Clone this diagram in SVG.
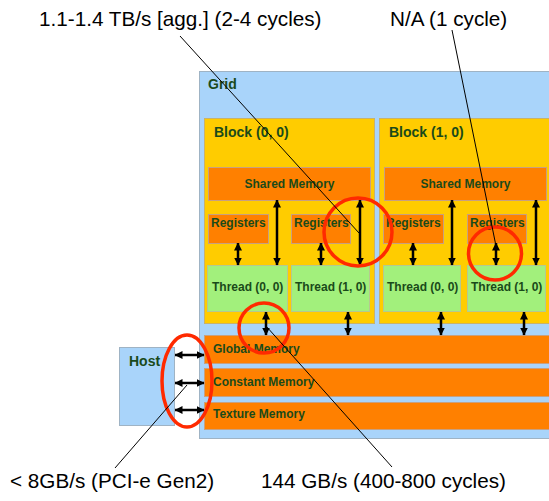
<svg xmlns="http://www.w3.org/2000/svg" width="549" height="501" viewBox="0 0 549 501">
<defs>
<marker id="ah" viewBox="0 0 8 8" refX="7.5" refY="4" markerWidth="8" markerHeight="8" markerUnits="userSpaceOnUse" orient="auto-start-reverse">
<path d="M0,0 L8,4 L0,8 z" fill="#000"/>
</marker>
</defs>
<style>
.grid{fill:#a9d4fa;stroke:#9fb3c4;stroke-width:1}
.block{fill:#ffcc00;stroke:#c9b26a;stroke-width:1}
.mem{fill:#ff8000;stroke:#c8a080;stroke-width:1}
.thr{fill:#a2f07c;stroke:#b5c890;stroke-width:1}
.host{fill:#a9d4fa;stroke:#9fb3c4;stroke-width:1}
.lbl{font-family:"Liberation Sans",Arial,sans-serif;font-weight:bold;fill:#1a4a1a}
.l14{font-size:14px}
.l12{font-size:12px}
.big{font-family:"Liberation Sans",Arial,sans-serif;font-size:20.7px;fill:#000}
.arr{stroke:#000;stroke-width:2.5;fill:none;marker-start:url(#ah);marker-end:url(#ah)}
.ptr{stroke:#000;stroke-width:1;fill:none}
.ring{stroke:#ff2a00;stroke-width:3.5;fill:none}
</style>
<rect width="549" height="501" fill="#fff"/>

<g id="grid">
<rect class="grid" x="199.5" y="71.5" width="360" height="367"/>
<text class="lbl l14" x="208" y="89">Grid</text>
</g>

<g id="block00">
<rect class="block" x="204.5" y="118.5" width="170" height="205"/>
<text class="lbl l14" x="214" y="137">Block (0, 0)</text>
</g>
<g id="block10">
<rect class="block" x="379.5" y="118.5" width="180" height="205"/>
<text class="lbl l14" x="389" y="137">Block (1, 0)</text>
</g>

<g id="shared0">
<rect class="mem" x="208.5" y="167.5" width="162" height="33"/>
<text class="lbl l12" x="289.5" y="188" text-anchor="middle">Shared Memory</text>
</g>
<g id="shared1">
<rect class="mem" x="384.5" y="167.5" width="162" height="33"/>
<text class="lbl l12" x="465.5" y="188" text-anchor="middle">Shared Memory</text>
</g>

<g id="reg00">
<rect class="mem" x="208.5" y="214.5" width="60" height="29"/>
<text class="lbl l12" x="211" y="227">Registers</text>
</g>
<g id="reg01">
<rect class="mem" x="291.5" y="214.5" width="59" height="29"/>
<text class="lbl l12" x="294" y="227">Registers</text>
</g>
<g id="reg10">
<rect class="mem" x="383.5" y="214.5" width="60" height="29"/>
<text class="lbl l12" x="386" y="227">Registers</text>
</g>
<g id="reg11">
<rect class="mem" x="467.5" y="214.5" width="59" height="29"/>
<text class="lbl l12" x="470" y="227">Registers</text>
</g>

<g id="thr00">
<rect class="thr" x="207.5" y="265.5" width="80" height="46"/>
<text class="lbl l12" x="212" y="291">Thread (0, 0)</text>
</g>
<g id="thr01">
<rect class="thr" x="291.5" y="265.5" width="78" height="46"/>
<text class="lbl l12" x="295" y="291">Thread (1, 0)</text>
</g>
<g id="thr10">
<rect class="thr" x="383.5" y="265.5" width="77" height="46"/>
<text class="lbl l12" x="387" y="291">Thread (0, 0)</text>
</g>
<g id="thr11">
<rect class="thr" x="467.5" y="265.5" width="78" height="46"/>
<text class="lbl l12" x="471" y="291">Thread (1, 0)</text>
</g>

<g id="global">
<rect class="mem" x="204.5" y="335.5" width="355" height="28"/>
<text class="lbl l12" x="213" y="353">Global Memory</text>
</g>
<g id="constant">
<rect class="mem" x="204.5" y="368.5" width="355" height="28"/>
<text class="lbl l12" x="213" y="386">Constant Memory</text>
</g>
<g id="texture">
<rect class="mem" x="204.5" y="402.5" width="355" height="27"/>
<text class="lbl l12" x="213" y="418">Texture Memory</text>
</g>

<g id="host">
<rect class="host" x="119.5" y="347.5" width="55" height="78"/>
<text class="lbl l14" x="129" y="366">Host</text>
</g>

<g id="connectors">
<line class="arr" x1="238" y1="243" x2="238" y2="265"/>
<line class="arr" x1="321" y1="243" x2="321" y2="265"/>
<line class="arr" x1="413" y1="243" x2="413" y2="265"/>
<line class="arr" x1="496" y1="243" x2="496" y2="265"/>
<line class="arr" x1="277" y1="200" x2="277" y2="265"/>
<line class="arr" x1="360" y1="200" x2="360" y2="265"/>
<line class="arr" x1="452" y1="200" x2="452" y2="265"/>
<line class="arr" x1="536" y1="200" x2="536" y2="265"/>
<line class="arr" x1="266" y1="312" x2="266" y2="335"/>
<line class="arr" x1="348" y1="312" x2="348" y2="335"/>
<line class="arr" x1="441" y1="312" x2="441" y2="335"/>
<line class="arr" x1="524" y1="312" x2="524" y2="335"/>
<line class="arr" x1="175" y1="355" x2="204" y2="355"/>
<line class="arr" x1="175" y1="383" x2="204" y2="383"/>
<line class="arr" x1="175" y1="410" x2="204" y2="410"/>
</g>

<g id="annotations">
<circle class="ring" cx="358" cy="232" r="34"/>
<circle class="ring" cx="495" cy="253.5" r="26.5"/>
<circle class="ring" cx="264" cy="328" r="25"/>
<ellipse class="ring" cx="187" cy="381" rx="25" ry="46"/>
<line class="ptr" x1="180" y1="36" x2="359" y2="233"/>
<line class="ptr" x1="452" y1="30" x2="496" y2="246"/>
<line class="ptr" x1="115" y1="468" x2="187" y2="385"/>
<line class="ptr" x1="266" y1="326" x2="392" y2="467"/>
<text class="big" x="39" y="26">1.1-1.4 TB/s [agg.] (2-4 cycles)</text>
<text class="big" x="390" y="26">N/A (1 cycle)</text>
<text class="big" x="10" y="488">&lt; 8GB/s (PCI-e Gen2)</text>
<text class="big" x="261" y="488">144 GB/s (400-800 cycles)</text>
</g>
</svg>
